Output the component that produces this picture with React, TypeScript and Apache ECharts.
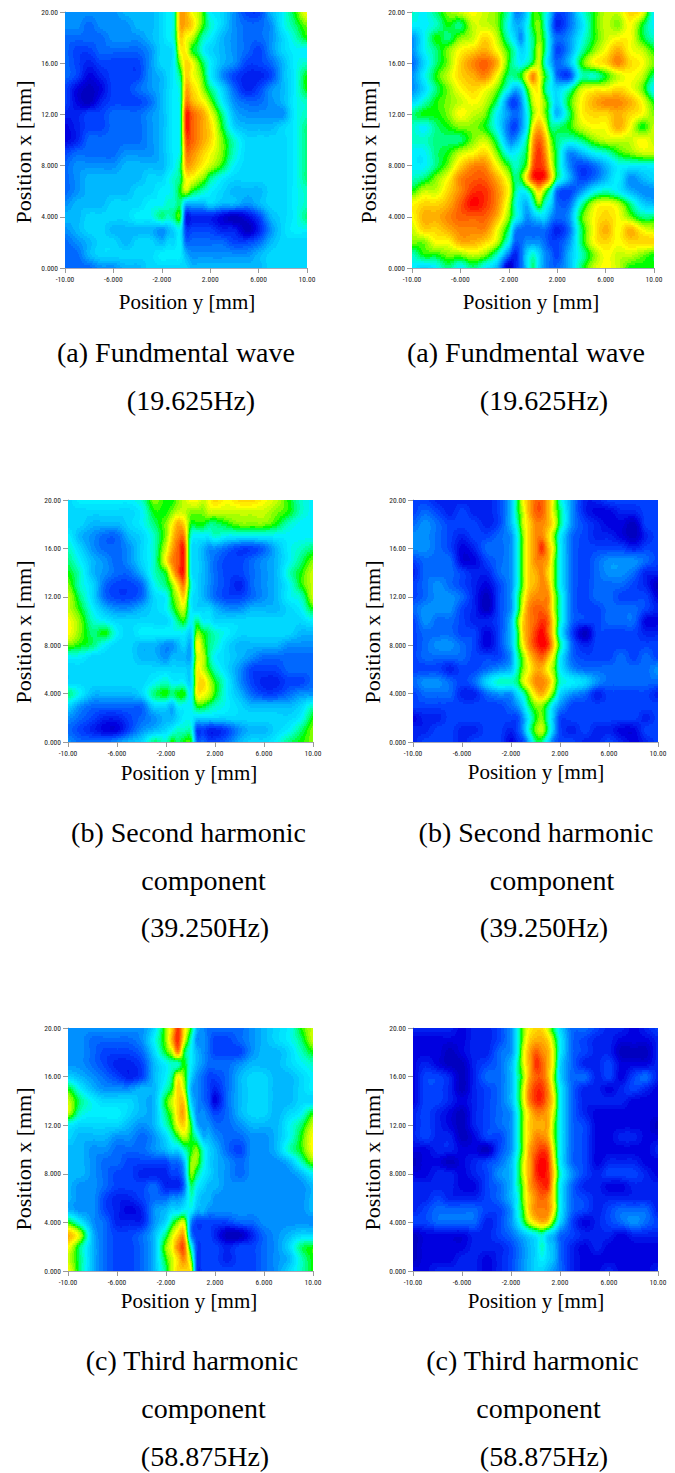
import React, { useEffect, useRef } from "react";
import * as echarts from "echarts";

const columnsY = [-10, -9, -8, -7, -6, -5, -4, -3, -2, -1.5, -1, -0.5, 0, 0.5, 1, 1.5, 2, 3, 4, 5, 6, 7, 8, 9, 10];
const rowsX = [20, 19, 18, 17, 16, 15, 14, 13, 12, 11, 10, 9, 8, 7, 6, 5, 4, 3, 2, 1, 0];

const xTickValues = [-10, -6, -2, 2, 6, 10];
const xTickLabels = ["-10.00", "-6.000", "-2.000", "2.000", "6.000", "10.00"];
const yTickValues = [0, 4, 8, 12, 16, 20];
const yTickLabels = ["0.000", "4.000", "8.000", "12.00", "16.00", "20.00"];

const levelColors = [
  "#0000c0", "#0000e0", "#0020f0", "#0040ff", "#0068ff", "#0090ff", "#00b8ff", "#00d8ff", "#00f0ff", "#00ffc8", "#00ff80",
  "#00ff00", "#80ff00", "#c8ff00", "#ffff00", "#ffd800", "#ffb000", "#ff8800", "#ff6000", "#ff3000", "#ff0000",
];

const fundamentalVoltage = [
  [5,5,5,5,5,6,6,6,7,8,9,16,16,14,13,11,8,7,5,3,3,6,8,11,14],
  [5,5,4,5,5,5,6,6,7,8,9,16,16,15,13,11,9,7,5,4,4,5,8,10,12],
  [4,4,4,4,5,5,5,6,7,8,9,15,14,13,11,9,8,6,5,4,4,5,7,9,11],
  [4,3,3,4,4,4,4,5,7,7,8,14,14,11,10,8,7,6,5,4,3,5,7,8,8],
  [4,3,2,3,3,3,3,5,7,7,8,12,15,14,12,10,8,6,5,3,3,4,6,8,9],
  [4,3,1,2,3,3,3,5,6,7,8,10,15,14,13,11,8,5,3,2,2,3,6,8,11],
  [3,1,0,1,3,3,4,5,6,7,8,9,16,15,14,12,10,7,4,2,3,5,6,8,11],
  [3,1,0,2,3,3,3,4,6,7,8,9,17,16,15,14,12,8,5,4,4,5,6,8,9],
  [2,2,3,3,4,4,4,5,6,7,8,9,19,18,17,16,14,10,6,5,5,5,5,8,9],
  [1,2,3,3,4,4,4,5,6,7,8,9,19,18,17,16,15,11,7,6,6,6,7,8,10],
  [1,2,4,4,4,4,4,5,6,7,8,9,18,18,17,16,15,12,9,7,7,7,7,8,10],
  [3,4,4,4,4,5,5,5,6,7,8,9,17,17,16,15,14,12,9,7,7,7,7,8,10],
  [4,5,5,5,5,6,6,6,6,7,8,10,16,16,15,14,13,11,8,7,7,7,7,8,10],
  [4,5,6,6,6,6,6,7,7,8,9,10,14,14,13,12,10,8,7,7,7,7,7,8,10],
  [4,5,6,6,6,6,7,7,8,8,9,11,13,11,10,9,8,7,6,6,6,7,7,8,9],
  [5,6,6,6,7,7,7,8,8,9,9,10,6,6,6,6,7,6,6,5,6,7,7,8,9],
  [6,6,7,7,7,7,8,8,10,9,10,11,2,2,2,2,2,1,0,1,3,6,7,8,10],
  [5,6,7,7,6,6,6,6,5,6,7,8,3,3,3,3,3,2,2,0,2,5,7,8,8],
  [4,5,6,7,7,6,7,7,6,7,7,8,4,4,4,4,4,4,3,3,4,6,7,7,7],
  [4,4,6,7,7,7,7,7,8,8,8,8,6,5,5,5,5,5,5,5,6,7,7,7,7],
  [4,4,4,5,5,6,6,7,7,7,7,7,7,6,6,6,6,6,6,6,6,7,7,7,7],
];

const fundamentalCurrent = [
  [9,8,10,12,13,14,13,12,9,5,5,7,11,11,9,6,3,4,8,11,13,13,15,14,8],
  [8,8,9,11,10,13,13,12,8,6,6,8,11,12,9,5,2,4,7,11,13,12,14,11,8],
  [5,8,11,10,12,13,15,13,9,7,5,8,10,12,10,6,4,5,8,11,13,14,14,11,9],
  [5,8,10,12,14,15,16,14,11,9,7,8,10,13,10,6,3,5,9,12,14,16,14,13,11],
  [4,7,10,12,15,17,18,16,11,9,8,9,11,13,9,6,4,6,11,14,15,17,15,14,12],
  [5,8,11,13,15,16,17,14,10,10,11,14,17,14,11,8,4,3,9,9,11,13,14,13,10],
  [5,7,10,12,14,15,14,12,8,6,7,11,14,14,10,8,7,9,13,14,14,15,14,12,8],
  [7,9,11,12,13,14,13,10,4,3,5,9,13,14,12,9,7,11,14,16,17,17,16,14,11],
  [10,11,11,12,14,13,12,8,5,4,5,8,12,14,12,9,6,10,14,15,15,16,15,14,12],
  [9,8,10,11,12,12,11,8,4,3,5,8,14,16,14,10,10,11,13,14,14,16,14,11,13],
  [9,9,10,10,10,12,13,10,5,5,7,10,16,18,16,12,10,9,10,12,13,13,13,14,13],
  [8,8,10,11,13,14,15,12,8,8,9,11,17,19,17,13,10,5,6,8,9,11,12,13,13],
  [8,8,10,12,15,17,17,14,11,9,10,12,18,19,18,14,10,5,3,4,6,8,8,8,8],
  [9,10,12,14,17,18,18,16,13,10,11,15,19,20,19,15,10,6,3,4,6,8,5,6,7],
  [11,13,13,15,17,19,19,17,14,10,8,9,12,15,12,9,4,3,5,8,9,8,6,5,5],
  [14,15,15,16,18,20,19,17,13,9,7,6,9,12,9,7,4,4,9,13,14,13,10,7,6],
  [14,16,16,17,18,18,18,16,12,9,7,5,6,7,7,5,4,5,11,14,15,14,12,10,10],
  [13,15,15,16,17,17,17,14,10,5,4,4,4,4,4,3,2,4,10,14,16,14,16,14,13],
  [12,12,14,14,16,16,15,13,8,4,4,5,5,5,4,3,3,5,10,14,15,14,15,15,15],
  [9,11,11,12,12,13,12,9,4,2,4,7,9,7,5,4,3,6,9,12,14,13,13,12,11],
  [8,7,8,10,8,10,8,6,0,2,4,7,10,7,5,4,4,6,10,13,14,13,11,11,11],
];

const secondVoltage = [
  [7,8,8,8,8,8,9,12,11,11,12,13,14,14,13,14,15,14,15,15,14,13,11,9,8],
  [7,7,7,7,7,7,8,11,11,12,13,13,12,12,12,13,13,13,13,13,13,12,11,9,8],
  [7,7,6,6,6,7,8,10,12,14,16,15,11,11,11,10,10,11,12,12,12,11,9,8,8],
  [8,6,5,4,4,6,7,9,12,15,17,17,9,8,8,8,9,8,8,8,8,8,8,8,8],
  [9,7,5,4,4,5,7,9,13,16,18,19,8,7,6,5,5,4,3,3,4,6,8,9,10],
  [10,8,6,5,4,5,7,9,14,17,18,19,8,7,6,5,4,3,3,4,5,6,8,10,12],
  [11,9,6,5,4,4,6,9,11,15,18,19,8,7,6,5,4,3,3,4,5,6,9,11,13],
  [12,9,7,4,3,3,4,8,10,12,15,17,9,7,6,5,4,3,2,4,5,6,8,11,13],
  [13,10,7,4,3,3,4,7,8,11,13,15,8,7,6,5,4,3,3,4,5,6,8,9,13],
  [13,11,8,6,5,5,6,7,8,10,12,13,8,7,7,7,6,5,5,6,6,6,7,8,11],
  [14,12,9,8,7,7,7,7,7,8,10,11,8,10,8,8,7,7,7,7,7,7,7,7,8],
  [14,12,10,11,8,7,8,8,8,8,8,8,7,12,11,10,9,8,7,7,7,7,7,6,6],
  [12,11,10,8,7,7,6,6,5,5,6,7,6,14,12,10,9,7,6,6,6,6,5,5,5],
  [8,8,7,7,7,7,6,6,5,6,6,6,6,13,13,10,8,7,6,5,4,4,4,4,4],
  [7,7,7,7,7,7,7,7,7,7,7,7,7,14,13,11,9,7,5,3,3,3,4,4,4],
  [7,7,7,7,7,7,7,8,9,8,8,8,7,14,15,13,11,8,5,3,2,2,3,3,4],
  [10,8,6,6,6,6,7,10,11,10,11,11,8,14,14,13,11,8,6,4,3,3,4,5,5],
  [7,5,4,4,4,4,4,7,7,6,8,8,8,11,11,10,9,8,7,6,6,6,6,7,9],
  [5,4,3,2,2,3,4,5,6,6,7,8,8,7,7,7,7,7,7,7,7,7,7,8,11],
  [4,3,2,1,1,3,5,6,7,8,9,9,9,3,3,2,2,3,5,6,6,7,8,10,12],
  [5,4,4,4,5,6,7,10,9,11,10,11,11,4,4,3,3,4,6,7,7,8,10,11,12],
];

const secondCurrent = [
  [3,3,2,2,2,2,2,3,6,10,14,16,18,18,16,13,9,5,2,2,3,3,3,3,3],
  [3,4,3,2,3,2,2,3,6,10,13,16,18,18,16,13,10,5,2,1,1,2,2,3,3],
  [4,5,4,3,3,3,2,3,6,9,13,15,17,17,16,14,10,5,3,2,1,1,0,3,3],
  [5,5,4,3,2,3,3,4,5,8,12,15,17,17,15,12,8,4,3,2,2,1,0,2,3],
  [5,5,4,3,1,2,4,4,5,8,12,15,17,19,16,13,8,4,3,3,3,3,2,3,3],
  [3,4,4,4,1,1,3,4,5,8,12,15,17,17,16,12,8,4,3,4,5,5,5,4,3],
  [2,4,4,4,3,2,2,4,5,8,12,15,16,17,15,12,8,4,3,4,5,5,4,2,2],
  [3,4,5,4,3,2,1,3,5,8,12,15,16,17,16,12,8,4,3,4,4,4,3,2,0],
  [3,4,5,5,4,2,0,3,5,9,13,16,17,17,17,13,9,4,3,4,4,3,3,3,1],
  [4,5,5,5,3,2,0,3,5,9,14,17,18,18,17,13,9,4,3,3,4,4,4,3,2],
  [3,5,4,4,3,2,2,3,6,11,15,17,18,19,18,14,9,4,3,3,4,4,4,1,1],
  [3,4,4,4,3,3,1,3,6,10,15,17,19,20,18,14,8,3,0,3,3,3,3,2,2],
  [3,4,5,5,4,3,1,3,6,10,14,17,19,20,19,15,10,4,2,3,3,3,3,3,3],
  [3,4,4,4,4,3,3,3,5,9,12,15,17,18,16,13,8,4,3,3,3,4,3,4,3],
  [3,3,3,2,3,3,4,5,6,9,12,14,16,16,14,12,8,5,4,4,4,4,4,4,5],
  [4,5,5,4,3,4,7,9,9,10,13,15,17,17,16,13,9,8,7,5,4,4,4,4,4],
  [3,4,4,4,2,2,4,5,5,7,9,12,15,16,14,11,7,5,4,2,3,3,3,3,2],
  [3,3,3,3,3,3,3,3,4,5,7,10,12,12,10,7,5,3,3,3,3,3,3,3,3],
  [1,2,2,3,3,3,3,3,3,3,5,8,11,12,9,6,3,3,3,3,3,3,3,2,3],
  [2,2,3,3,2,2,3,3,2,3,5,9,12,13,10,6,3,2,3,2,2,1,1,3,3],
  [2,3,3,3,2,3,3,3,1,2,3,6,10,10,7,4,3,3,2,2,3,2,1,2,3],
];

const thirdVoltage = [
  [5,5,5,5,5,5,5,7,12,15,19,15,11,6,5,4,4,4,4,5,6,7,8,11,13],
  [5,5,4,4,4,4,5,8,12,16,19,14,9,5,5,4,3,3,4,5,6,7,8,10,13],
  [5,5,4,3,3,3,4,7,11,13,17,11,8,6,5,4,3,3,3,5,6,6,7,9,11],
  [5,5,4,3,2,2,3,6,8,9,9,11,8,6,5,4,4,4,5,6,6,6,7,8,9],
  [7,6,5,4,3,2,3,6,8,10,14,12,7,5,4,3,3,4,6,7,7,6,6,7,8],
  [11,8,6,5,5,5,6,6,9,11,15,13,6,5,4,3,2,4,6,7,7,6,6,7,8],
  [13,10,8,7,7,7,6,6,11,13,15,15,7,5,4,3,1,4,6,7,7,6,6,7,7],
  [13,9,8,8,8,7,6,6,10,12,15,16,9,5,5,4,3,4,6,7,7,6,7,8,11],
  [8,7,7,7,7,6,5,6,9,11,14,15,11,6,5,5,4,4,5,6,6,6,8,10,13],
  [7,6,6,6,5,5,4,5,7,9,11,13,11,9,6,6,5,4,4,5,5,6,8,11,14],
  [6,6,5,5,4,4,4,5,6,7,7,9,11,12,9,7,6,4,3,5,5,6,9,11,14],
  [6,6,5,4,4,3,3,3,3,4,4,6,12,12,9,7,6,5,4,5,5,5,6,9,12],
  [6,6,5,4,3,3,2,2,2,3,3,5,12,10,8,7,6,5,4,5,5,5,5,6,8],
  [6,5,5,4,3,3,3,4,2,2,2,4,10,8,7,6,6,5,5,5,5,5,5,5,6],
  [6,5,5,3,2,2,3,4,4,5,5,6,9,7,6,6,5,5,5,5,5,5,5,5,6],
  [6,5,5,3,2,1,2,5,6,7,7,8,8,6,6,5,5,5,5,5,5,5,5,5,6],
  [11,8,5,4,2,2,2,5,7,10,12,13,5,3,3,3,3,3,4,4,5,5,5,5,5],
  [16,13,6,4,3,3,4,6,10,13,15,16,5,3,3,3,2,0,0,2,4,5,6,7,7],
  [14,10,6,4,3,3,4,6,12,14,17,18,9,3,3,3,3,2,3,3,4,5,7,10,11],
  [13,10,6,4,3,3,4,6,11,13,15,17,12,3,3,3,3,2,3,3,4,5,6,9,11],
  [14,10,6,4,3,3,4,6,10,13,15,15,14,3,3,3,3,3,3,3,4,5,7,9,11],
];

const thirdCurrent = [
  [2,2,2,2,1,2,2,3,5,8,12,14,15,15,13,10,7,4,4,3,2,2,1,2,3],
  [1,1,1,1,1,2,2,3,5,8,12,15,16,16,15,12,8,4,3,2,2,1,1,1,2],
  [1,1,1,0,1,2,2,4,5,8,13,16,18,17,16,13,8,4,3,2,2,0,0,0,2],
  [1,2,1,0,0,2,3,4,6,9,13,16,19,18,16,13,7,4,2,2,3,1,1,1,2],
  [1,3,3,2,0,2,4,4,6,9,12,16,18,18,16,12,7,4,4,2,3,1,3,4,2],
  [1,3,3,2,0,2,3,4,6,9,13,17,19,19,17,13,8,4,2,2,1,2,3,2,1],
  [1,3,3,2,1,2,3,4,6,9,13,17,19,19,17,14,8,4,2,2,2,2,1,1,1],
  [2,3,2,1,0,2,3,4,5,8,12,15,17,17,16,13,8,4,2,1,1,1,1,1,1],
  [2,3,2,1,0,2,3,4,5,8,12,15,16,16,16,12,8,4,3,1,1,1,1,1,0],
  [2,3,2,2,0,1,3,3,5,8,12,15,17,17,16,12,8,4,3,1,1,2,2,1,1],
  [1,1,2,2,1,1,0,3,5,8,12,16,18,19,18,13,8,4,3,1,1,1,1,1,2],
  [0,1,1,0,1,2,3,4,6,9,13,16,19,20,19,14,8,4,3,1,2,2,2,1,1],
  [1,1,2,2,1,2,3,5,6,9,13,16,19,20,19,15,9,5,3,2,3,3,3,2,1],
  [2,2,2,2,1,1,3,4,6,9,12,16,18,19,19,14,8,4,2,2,1,1,2,2,2],
  [2,2,3,2,2,2,3,4,6,8,12,15,17,18,17,14,8,4,3,2,2,2,2,2,2],
  [2,3,4,4,4,4,3,3,5,8,11,15,17,17,17,14,8,4,3,2,3,4,4,4,2],
  [3,3,4,4,4,4,2,3,5,7,10,13,15,16,15,11,7,3,1,2,3,4,5,4,3],
  [0,1,1,1,1,2,2,3,4,5,6,7,8,9,7,6,4,3,2,2,2,1,2,2,2],
  [0,1,1,1,1,2,2,2,3,4,5,6,7,9,7,6,4,2,1,2,1,1,1,1,1],
  [0,1,1,1,2,2,1,2,3,4,5,6,7,8,7,6,4,2,1,1,1,1,1,1,1],
  [1,1,2,2,2,2,1,2,3,4,5,6,7,7,6,5,4,2,1,1,2,1,1,1,2],
];

const panelValues = [fundamentalVoltage, fundamentalCurrent, secondVoltage, secondCurrent, thirdVoltage, thirdCurrent];

const panelBoxes = [
  { left: 65, top: 12, width: 242, height: 256, xName: [187, 302], yName: [23, 152] },
  { left: 412, top: 12, width: 242, height: 256, xName: [531, 302], yName: [368, 152] },
  { left: 68, top: 500, width: 245, height: 242, xName: [189, 773], yName: [23, 632] },
  { left: 413, top: 500, width: 245, height: 242, xName: [536, 772], yName: [372, 632] },
  { left: 68, top: 1028, width: 245, height: 243, xName: [189, 1301], yName: [23, 1159] },
  { left: 413, top: 1028, width: 245, height: 243, xName: [536, 1301], yName: [372, 1159] },
];

const captions: [string, number, number][] = [
  ["(a) Fundmental wave", 176, 352], ["(19.625Hz)", 191, 400],
  ["(a) Fundmental wave", 526, 352], ["(19.625Hz)", 544, 400],
  ["(b) Second harmonic", 188.5, 832], ["component", 203.5, 880], ["(39.250Hz)", 205, 927],
  ["(b) Second harmonic", 536, 832], ["component", 552, 880], ["(39.250Hz)", 544, 927],
  ["(c) Third harmonic", 192, 1360], ["component", 203.5, 1408], ["(58.875Hz)", 205, 1456],
  ["(c) Third harmonic", 532.5, 1360], ["component", 538.5, 1408], ["(58.875Hz)", 544, 1456],
];

const SERIF = '"Liberation Serif", "Times New Roman", serif';
const TICK_FONT = '"Liberation Sans Narrow", "Roboto Condensed", "DejaVu Sans Condensed", sans-serif';

function channel(hex: string, k: number) {
  return parseInt(hex.slice(1 + k * 2, 3 + k * 2), 16);
}

function bandColor(band: number) {
  const lo = Math.floor(band / 2);
  const hi = Math.min(20, lo + 1);
  const t = band / 2 - lo;
  const parts = [0, 1, 2].map((k) => Math.round(channel(levelColors[lo], k) * (1 - t) + channel(levelColors[hi], k) * t));
  return `rgb(${parts[0]},${parts[1]},${parts[2]})`;
}

function catmull(a: number, b: number, c: number, d: number, t: number) {
  return b + 0.5 * t * (c - a + t * (2 * a - 5 * b + 4 * c - d + t * (3 * (b - c) + d - a)));
}

function cellRenderer(values: number[][]) {
  const nCols = columnsY.length;
  const nRows = rowsX.length;
  const at = (r: number, c: number) => values[Math.max(0, Math.min(nRows - 1, r))][Math.max(0, Math.min(nCols - 1, c))];
  return (_params: any, api: any) => {
    const i = api.value(3);
    const j = api.value(4);
    if (i >= nCols - 1 || j >= nRows - 1) return null;
    const a = api.coord([columnsY[i], rowsX[j]]);
    const b = api.coord([columnsY[i + 1], rowsX[j + 1]]);
    const x0 = Math.round(a[0]);
    const x1 = Math.round(b[0]);
    const y0 = Math.round(a[1]);
    const y1 = Math.round(b[1]);
    const children: any[] = [];
    for (let y = y0; y < y1; y += 2) {
      const h = Math.min(2, y1 - y);
      const ty = (y + h / 2 - y0) / (y1 - y0);
      const col = [0, 1, 2, 3].map((c) =>
        catmull(at(j - 1, i - 1 + c), at(j, i - 1 + c), at(j + 1, i - 1 + c), at(j + 2, i - 1 + c), ty)
      );
      let runStart = x0;
      let runBand = -1;
      for (let x = x0; x <= x1; x++) {
        let band = -2;
        if (x < x1) {
          const tx = (x + 0.5 - x0) / (x1 - x0);
          const v = catmull(col[0], col[1], col[2], col[3], tx);
          band = Math.max(0, Math.min(40, Math.round(v * 2)));
        }
        if (band !== runBand) {
          if (runBand >= 0) {
            children.push({
              type: "rect",
              shape: { x: runStart, y, width: x - runStart, height: h },
              style: { fill: bandColor(runBand) },
            });
          }
          runStart = x;
          runBand = band;
        }
      }
    }
    return { type: "group", children };
  };
}

function buildOption() {
  const grid = panelBoxes.map((b) => ({ left: b.left, top: b.top, width: b.width, height: b.height, containLabel: false }));
  const tickLine = { show: true, length: 5, lineStyle: { color: "#9a9a9a", width: 1 } };
  const label = { fontSize: 7.5, color: "#222", fontFamily: TICK_FONT, margin: 7 };
  const xAxis = panelBoxes.map((_, k) => ({
    type: "value", gridIndex: k, min: -10, max: 10, splitLine: { show: false },
    axisLine: { show: true, onZero: false, lineStyle: { color: "#a8a8b8" } },
    axisTick: { ...tickLine, customValues: xTickValues },
    axisLabel: { ...label, customValues: xTickValues, formatter: (v: number) => xTickLabels[xTickValues.indexOf(v)] ?? "" },
  }));
  const yAxis = panelBoxes.map((_, k) => ({
    type: "value", gridIndex: k, min: 0, max: 20, splitLine: { show: false },
    axisLine: { show: true, onZero: false, lineStyle: { color: "#a8a8b8" } },
    axisTick: { ...tickLine, customValues: yTickValues },
    axisLabel: { ...label, customValues: yTickValues, formatter: (v: number) => yTickLabels[yTickValues.indexOf(v)] ?? "" },
  }));
  const series = panelValues.map((values, k) => {
    const data: number[][] = [];
    values.forEach((row, j) => row.forEach((v, i) => data.push([columnsY[i], rowsX[j], v, i, j])));
    return {
      type: "custom", xAxisIndex: k, yAxisIndex: k, coordinateSystem: "cartesian2d", silent: true,
      encode: { x: 0, y: 1 }, data, renderItem: cellRenderer(values),
    };
  });
  const graphic: any[] = [];
  panelBoxes.forEach((b) => {
    graphic.push({ type: "text", x: b.xName[0], y: b.xName[1], silent: true,
      style: { text: "Position y [mm]", align: "center", verticalAlign: "middle", fontSize: 21, fontFamily: SERIF, fill: "#000" } });
    graphic.push({ type: "text", x: b.yName[0], y: b.yName[1], rotation: Math.PI / 2, silent: true,
      style: { text: "Position x [mm]", align: "center", verticalAlign: "middle", fontSize: 22, fontFamily: SERIF, fill: "#000" } });
  });
  captions.forEach(([text, x, y]) => {
    graphic.push({ type: "text", x, y, silent: true,
      style: { text, align: "center", verticalAlign: "middle", fontSize: 28, fontFamily: SERIF, fill: "#000" } });
  });
  return { animation: false, backgroundColor: "#fff", grid, xAxis, yAxis, series, graphic };
}

export default function App() {
  const ref = useRef<HTMLDivElement>(null);
  useEffect(() => {
    document.body.style.margin = "0";
    const chart = echarts.init(ref.current!, undefined, { renderer: "svg" });
    chart.setOption(buildOption() as any);
    return () => chart.dispose();
  }, []);
  return <div ref={ref} style={{ width: 675, height: 1473 }} />;
}
